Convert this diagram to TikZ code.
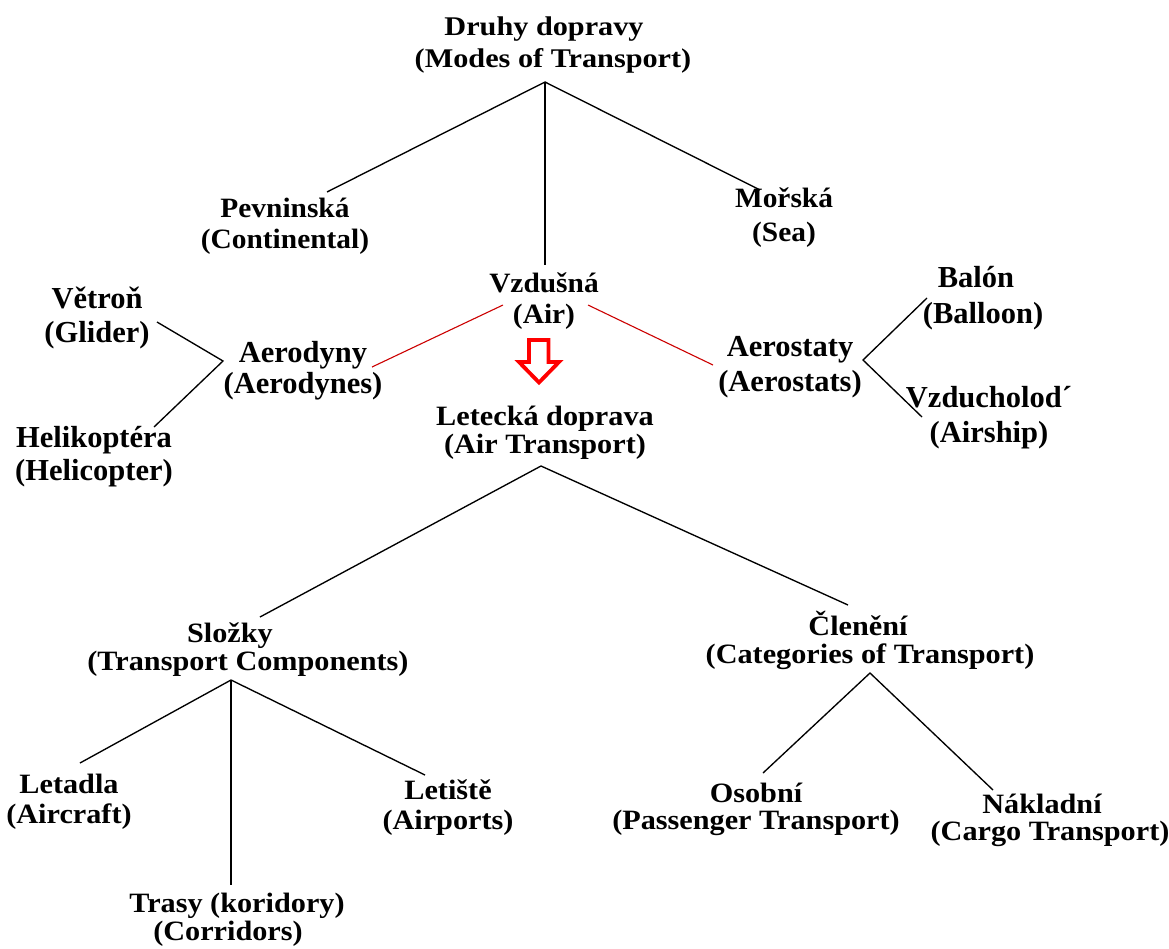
\documentclass[tikz,border=0pt]{standalone}
\usepackage{fontspec}
\setmainfont{Liberation Serif}
\newfontfamily\fntA[FakeStretch=1.12]{Liberation Serif}
\newfontfamily\fntB[FakeStretch=1.05]{Liberation Serif}
\newfontfamily\fntC{Liberation Serif}
\newfontfamily\fntD[FakeStretch=1.08]{Liberation Serif}
\newcommand\tline[1]{\strut\smash{#1}}
\tikzset{
  lbl/.style={align=center, inner sep=0pt, text=black},
  ftitle/.style={font=\fntA\fontsize{27}{32}\selectfont\bfseries},
  fB/.style={font=\fntB\fontsize{28}{#1}\selectfont\bfseries},
  fC/.style={font=\fntC\fontsize{30.5}{#1}\selectfont\bfseries},
  fD/.style={font=\fntD\fontsize{28}{#1}\selectfont\bfseries},
  link/.style={draw=black, line width=1.35pt},
  redlink/.style={draw=red!80!black, line width=1.1pt},
  hollowarrow/.style={draw=red, line width=3.8pt, fill=white, line join=miter}
}
\begin{document}
\begin{tikzpicture}[x=1pt, y=-1pt]
\fill[white] (0,0) rectangle (1169,948);
\path[use as bounding box] (0,0) rectangle (1169,948);

% nodes
\node[lbl,ftitle] (druhy) at (553,44.6) {\tline{Druhy dopravy\hspace*{18pt}}\\\tline{(Modes of Transport)}};
\node[lbl,fB=31] (pev) at (285,226.3) {\tline{Pevninská}\\\tline{(Continental)}};
\node[lbl,fB=31] (vzd) at (544,301.3) {\tline{Vzdušná}\\\tline{(Air)}};
\node[lbl,fB=34] (mor) at (784,218) {\tline{Mořská}\\\tline{(Sea)}};
\node[lbl,fC=34] (vet) at (97,318.2) {\tline{Větroň}\\\tline{(Glider)}};
\node[lbl,fC=31] (aerd) at (303,371.3) {\tline{Aerodyny}\\\tline{(Aerodynes)}};
\node[lbl,fC=33] (hel) at (94,456.9) {\tline{Helikoptéra}\\\tline{(Helicopter)}};
\node[lbl,fC=35] (aers) at (790,366.5) {\tline{Aerostaty}\\\tline{(Aerostats)}};
\node[lbl,fC=36] (bal) at (983,297.8) {\tline{Balón\hspace*{14pt}}\\\tline{(Balloon)}};
\node[lbl,fC=35] (vzl) at (989,417.5) {\tline{Vzducholod´}\\\tline{(Airship)}};
\node[lbl,fD=28] (let) at (545,433.4) {\tline{Letecká doprava}\\\tline{(Air Transport)}};
\node[lbl,fD=28] (slo) at (248,650.4) {\tline{Složky\hspace*{36pt}}\\\tline{(Transport Components)}};
\node[lbl,fD=28] (cle) at (870,643.4) {\tline{Členění\hspace*{24pt}}\\\tline{(Categories of Transport)}};
\node[lbl,fD=30] (ltd) at (69,802) {\tline{Letadla}\\\tline{(Aircraft)}};
\node[lbl,fD=30] (lts) at (448,808) {\tline{Letiště}\\\tline{(Airports)}};
\node[lbl,fD=28] (tra) at (228,920.4) {\tline{\hspace*{18pt}Trasy (koridory)}\\\tline{(Corridors)}};
\node[lbl,fD=27] (oso) at (756,810.1) {\tline{Osobní}\\\tline{(Passenger Transport)}};
\node[lbl,fD=27] (nak) at (1050,821.1) {\tline{Nákladní\hspace*{16pt}}\\\tline{(Cargo Transport)}};

% connector end points
\coordinate (tA) at (545,82);
\coordinate (pevE) at (327,192);
\coordinate (vzdE) at (545,265);
\coordinate (morE) at (760,190);
\coordinate (vzL) at (503,305);
\coordinate (aerdE) at (372,367);
\coordinate (vzR) at (588,305);
\coordinate (aersE) at (713,365);
\coordinate (vetE) at (157,322);
\coordinate (helE) at (154,427);
\coordinate (aerdJ) at (223,361);
\coordinate (aersJ) at (863,360);
\coordinate (balE) at (927,298);
\coordinate (vzlE) at (922,417);
\coordinate (letA) at (541,466);
\coordinate (sloE) at (260,617);
\coordinate (cleE) at (848,605);
\coordinate (sloA) at (231,680);
\coordinate (ltdE) at (80,763);
\coordinate (traE) at (231,885);
\coordinate (ltsE) at (425,775);
\coordinate (cleA) at (870,673);
\coordinate (osoE) at (763,773);
\coordinate (nakE) at (993,790);

% connectors
\draw[link] (pevE) -- (tA) -- (morE);
\draw[link] (tA) -- (vzdE);
\draw[redlink] (vzL) -- (aerdE);
\draw[redlink] (vzR) -- (aersE);
\draw[link] (vetE) -- (aerdJ) -- (helE);
\draw[link] (balE) -- (aersJ) -- (vzlE);
\draw[link] (sloE) -- (letA) -- (cleE);
\draw[link] (ltdE) -- (sloA) -- (ltsE);
\draw[link] (sloA) -- (traE);
\draw[link] (osoE) -- (cleA) -- (nakE);

% hollow red arrow
\draw[hollowarrow] (529,340) -- (548.5,340) -- (548.5,362) -- (559,362) -- (539,382.5) -- (519,362) -- (529,362) -- cycle;
\end{tikzpicture}
\end{document}
